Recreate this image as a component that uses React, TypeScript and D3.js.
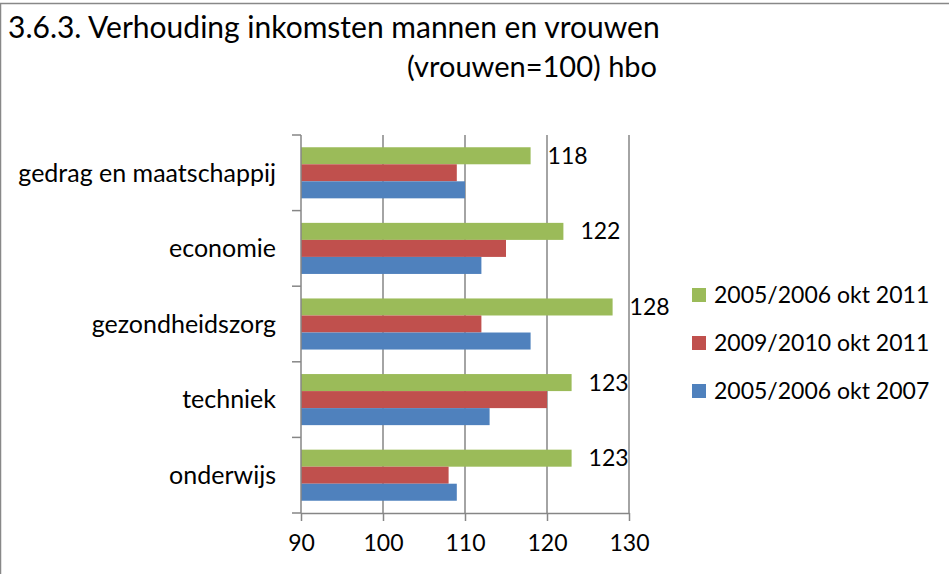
import React from "react";
import * as d3 from "d3";

// categories top to bottom
const categories = ["gedrag en maatschappij", "economie", "gezondheidszorg", "techniek", "onderwijs"];
// series in drawing order inside each group (top to bottom)
const seriesNames = ["2005/2006 okt 2011", "2009/2010 okt 2011", "2005/2006 okt 2007"];
const seriesColors = ["#9BBB59", "#C0504D", "#4F81BD"];
const green2011 = [118, 122, 128, 123, 123];
const red2011 = [109, 115, 112, 120, 108];
const blue2007 = [110, 112, 118, 113, 109];
const xTicks = [90, 100, 110, 120, 130];
const titleLines = ["3.6.3. Verhouding inkomsten mannen en vrouwen", "(vrouwen=100) hbo"];

const W = 949;
const H = 574;
const font = "Lato, 'Open Sans', sans-serif";

export default function App() {
  const ref = React.useRef<SVGSVGElement>(null);

  React.useEffect(() => {
    const svg = d3.select(ref.current);
    svg.selectAll("*").remove();

    const values = [green2011, red2011, blue2007];

    // frame (right and bottom edges lie outside the window)
    svg.append("rect")
      .attr("x", 0.5).attr("y", 3.5)
      .attr("width", W + 20).attr("height", H + 20)
      .attr("fill", "#fff").attr("stroke", "#888").attr("stroke-width", 1.5);

    // title
    svg.append("text")
      .attr("x", 8).attr("y", 38)
      .attr("font-family", font).attr("font-size", 30)
      .text(titleLines[0]);
    svg.append("text")
      .attr("x", 657).attr("y", 77)
      .attr("text-anchor", "end")
      .attr("font-family", font).attr("font-size", 29)
      .text(titleLines[1]);

    const x = d3.scaleLinear().domain([90, 130]).range([301, 629]);
    const y0 = d3.scaleBand<string>().domain(categories).range([135, 513]).padding(0);
    const y1 = d3.scaleBand<string>().domain(seriesNames)
      .range([0, y0.bandwidth()]).paddingInner(0).paddingOuter(0.72);

    // gridlines
    svg.append("g").selectAll("line")
      .data(xTicks.slice(1))
      .join("line")
      .attr("x1", d => x(d)).attr("x2", d => x(d))
      .attr("y1", 135).attr("y2", 513)
      .attr("stroke", "#868686").attr("stroke-width", 1.5);

    // bars
    const groups = svg.append("g").selectAll("g")
      .data(categories)
      .join("g")
      .attr("transform", d => `translate(0,${y0(d)})`);

    groups.selectAll("rect")
      .data((c, i) => seriesNames.map((s, k) => ({ s, k, v: values[k][i] })))
      .join("rect")
      .attr("x", x(90))
      .attr("y", d => y1(d.s)!)
      .attr("width", d => x(d.v) - x(90))
      .attr("height", y1.bandwidth())
      .attr("fill", d => seriesColors[d.k]);

    // data labels for first series
    svg.append("g").selectAll("text")
      .data(categories)
      .join("text")
      .attr("x", (c, i) => x(green2011[i]) + 17)
      .attr("y", c => y0(c)! + y1(seriesNames[0])! + y1.bandwidth() / 2)
      .attr("dy", "0.35em")
      .attr("font-family", font).attr("font-size", 23)
      .text((c, i) => green2011[i]);

    // x axis
    const xAxis = svg.append("g")
      .attr("transform", "translate(0,513)")
      .call(d3.axisBottom(x).tickValues(xTicks).tickSize(8).tickPadding(14).tickSizeOuter(0));
    xAxis.select(".domain").attr("stroke", "#868686").attr("stroke-width", 1.5);
    xAxis.selectAll(".tick line").attr("stroke", "#868686").attr("stroke-width", 1.5);
    xAxis.selectAll(".tick text")
      .attr("font-family", font).attr("font-size", 23).attr("fill", "#000");

    // y axis: ticks on band boundaries
    const boundaries = [...categories.map(c => y0(c)!), 513];
    svg.append("line")
      .attr("x1", 301).attr("x2", 301).attr("y1", 135).attr("y2", 513)
      .attr("stroke", "#868686").attr("stroke-width", 1.5);
    svg.append("g").selectAll("line")
      .data(boundaries)
      .join("line")
      .attr("x1", 292).attr("x2", 301)
      .attr("y1", d => d).attr("y2", d => d)
      .attr("stroke", "#868686").attr("stroke-width", 1.5);
    svg.append("g").selectAll("text")
      .data(categories)
      .join("text")
      .attr("x", 276)
      .attr("y", c => y0(c)! + y0.bandwidth() / 2)
      .attr("dy", "0.35em")
      .attr("text-anchor", "end")
      .attr("font-family", font).attr("font-size", 25)
      .text(c => c);

    // legend
    const legendY = d3.scalePoint<string>().domain(seriesNames).range([295, 391]);
    const leg = svg.append("g").selectAll("g")
      .data(seriesNames)
      .join("g")
      .attr("transform", d => `translate(692,${legendY(d)})`);
    leg.append("rect")
      .attr("x", 0).attr("y", -7).attr("width", 14).attr("height", 14)
      .attr("fill", (d, i) => seriesColors[i]);
    leg.append("text")
      .attr("x", 22).attr("dy", "0.35em")
      .attr("font-family", font).attr("font-size", 23)
      .text(d => d);
  }, []);

  return (
    <div style={{ position: "absolute", left: 0, top: 0 }}>
      <svg ref={ref} width={W} height={H} style={{ display: "block" }} />
    </div>
  );
}
